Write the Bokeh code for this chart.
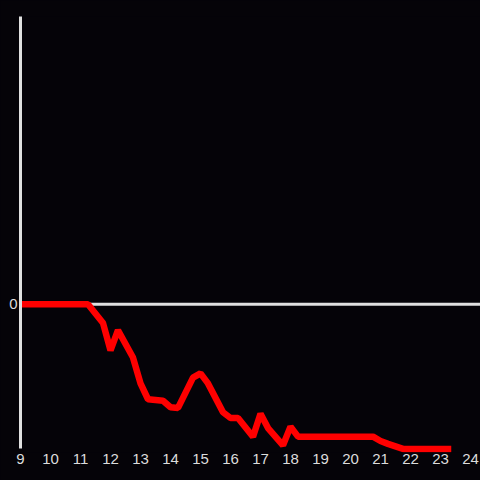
from bokeh.plotting import figure
from bokeh.models import FixedTicker, Span, Range1d, GlobalInlineStyleSheet
from bokeh.embed import file_html
from bokeh.resources import INLINE

hours = [9, 11.25, 11.75, 12.0, 12.25, 12.75, 13.0, 13.25, 13.75, 14.0, 14.25,
         14.75, 15.0, 15.25, 15.75, 16.0, 16.25, 16.75, 17.0, 17.25, 17.75,
         18.0, 18.25, 20.75, 21.0, 21.25, 21.75, 23.25]
values = [0, 0, -13, -32, -18, -37, -55, -66, -67, -71.5, -72,
          -51, -48, -55, -75, -79, -79, -92, -76, -86, -98,
          -85, -92, -92, -95, -97, -100.5, -100.5]
x_ticks = list(range(9, 25))
y_ticks = [0]

BG = "#050308"
FG = "#dcdcdc"

p = figure(width=480, height=480, output_backend="svg", toolbar_location=None,
           x_range=Range1d(9, 24.333), y_range=Range1d(-103, 200),
           background_fill_color=BG, border_fill_color=BG,
           min_border_left=20, min_border_right=0, min_border_top=16, min_border_bottom=28)
p.stylesheets = [GlobalInlineStyleSheet(css="html, body { background: #050308; }")]
p.outline_line_color = None
p.xgrid.visible = False
p.ygrid.visible = False

p.xaxis.ticker = FixedTicker(ticks=x_ticks)
p.xaxis.axis_line_color = None
p.xaxis.major_tick_line_color = None
p.xaxis.minor_tick_line_color = None
p.xaxis.major_tick_out = 0
p.xaxis.major_tick_in = 0
p.xaxis.major_label_standoff = 1
p.xaxis.major_label_text_color = FG
p.xaxis.major_label_text_font = "Liberation Sans"
p.xaxis.major_label_text_font_size = "15px"

p.yaxis.ticker = FixedTicker(ticks=y_ticks)
p.yaxis.bounds = (-100, 200)
p.yaxis.axis_line_color = "#e0e0e0"
p.yaxis.axis_line_width = 3
p.yaxis.major_tick_line_color = None
p.yaxis.minor_tick_line_color = None
p.yaxis.major_tick_out = 0
p.yaxis.major_tick_in = 0
p.yaxis.major_label_standoff = 3
p.yaxis.major_label_text_color = FG
p.yaxis.major_label_text_font = "Liberation Sans"
p.yaxis.major_label_text_font_size = "15px"

zero = Span(location=0, dimension="width", line_color="#e0e0e0", line_width=3,
            level="underlay")
p.add_layout(zero)

p.line(hours, values, line_color="#ff0000", line_width=6.5, line_cap="square")

open("out.html", "w").write(file_html(p, INLINE))
